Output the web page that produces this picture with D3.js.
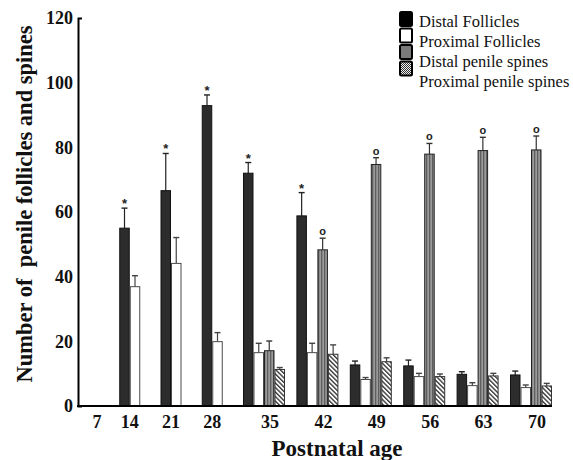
<!DOCTYPE html>
<html>
<head>
<meta charset="utf-8">
<script src="https://cdn.jsdelivr.net/npm/d3@7"></script>
<style>
  body { margin: 0; background: #fff; }
  svg { display: block; font-family: "Liberation Serif", "Times New Roman", serif; }
</style>
</head>
<body>
<svg id="chart"></svg>
<script>
// 1. Data
const ages = [7, 14, 21, 28, 35, 42, 49, 56, 63, 70]
const seriesNames = ["Distal Follicles", "Proximal Follicles", "Distal penile spines", "Proximal penile spines"]

const distalFollicles      = [null, 55.0, 66.6, 92.9, 72.0, 58.8, 12.7, 12.4, 9.8, 9.6]
const distalFolliclesErr   = [null, 6.2, 11.5, 3.3, 3.3, 7.2, 1.2, 1.8, 0.8, 1.2]
const proximalFollicles    = [null, 36.9, 44.1, 19.9, 16.5, 16.5, 8.2, 9.1, 6.3, 5.7]
const proximalFolliclesErr = [null, 3.4, 8.0, 2.8, 2.9, 2.9, 0.6, 1.0, 0.9, 0.8]
const distalSpines         = [null, null, null, null, 17.1, 48.3, 74.7, 77.9, 79.0, 79.2]
const distalSpinesErr      = [null, null, null, null, 3.0, 3.6, 2.1, 3.3, 4.1, 4.3]
const proximalSpines       = [null, null, null, null, 11.3, 16.0, 13.7, 9.1, 9.3, 6.2]
const proximalSpinesErr    = [null, null, null, null, 0.6, 2.9, 1.2, 0.8, 0.8, 0.8]

// significance marks: "*" on distal follicles, "o" on distal spines
const distalFolliclesMark = [null, "*", "*", "*", "*", "*", null, null, null, null]
const distalSpinesMark    = [null, null, null, null, null, "o", "o", "o", "o", "o"]

const yTicks = [0, 20, 40, 60, 80, 100, 120]

const series = [
  { values: distalFollicles, err: distalFolliclesErr, marks: distalFolliclesMark },
  { values: proximalFollicles, err: proximalFolliclesErr, marks: null },
  { values: distalSpines, err: distalSpinesErr, marks: distalSpinesMark },
  { values: proximalSpines, err: proximalSpinesErr, marks: null },
]

// 2. Dimensions
const width = 573
const height = 460
const margin = { top: 18, right: 20, bottom: 54, left: 78 }
const plotBottom = height - margin.bottom
const barWidth = 10.5

const svg = d3.select("#chart")
  .attr("width", width)
  .attr("height", height)

// 3. Patterns
const defs = svg.append("defs")

const stripes = defs.append("pattern")
  .attr("id", "vstripes")
  .attr("patternUnits", "userSpaceOnUse")
  .attr("width", 3).attr("height", 3)
stripes.append("rect").attr("width", 3).attr("height", 3).attr("fill", "#9a9a9a")
stripes.append("rect").attr("width", 1.3).attr("height", 3).attr("fill", "#5e5e5e")

const hatch = defs.append("pattern")
  .attr("id", "dhatch")
  .attr("patternUnits", "userSpaceOnUse")
  .attr("width", 3.2).attr("height", 3.2)
  .attr("patternTransform", "rotate(-45)")
hatch.append("rect").attr("width", 3.2).attr("height", 3.2).attr("fill", "#fff")
hatch.append("rect").attr("width", 1.4).attr("height", 3.2).attr("fill", "#3a3a3a")

const checker = defs.append("pattern")
  .attr("id", "checker")
  .attr("patternUnits", "userSpaceOnUse")
  .attr("width", 2).attr("height", 2)
checker.append("rect").attr("width", 2).attr("height", 2).attr("fill", "#eee")
checker.append("rect").attr("width", 1).attr("height", 1).attr("fill", "#333")
checker.append("rect").attr("x", 1).attr("y", 1).attr("width", 1).attr("height", 1).attr("fill", "#333")

const fills = ["#2c2c2c", "#ffffff", "url(#vstripes)", "url(#dhatch)"]
const strokes = ["#111", "#4a4a4a", "#222", "#333"]
const errColors = ["#222", "#444", "#333", "#444"]

// 4. Scales
const y = d3.scaleLinear()
  .domain([0, 120])
  .range([plotBottom, margin.top])

// groups 7-35 sit side by side, the later ones have a small gap between them
const groupX = d3.scaleLinear()
  .domain([0, 4, ages.length - 1])
  .range([margin.left, margin.left + 165, margin.left + 432])

const slot = d3.scaleBand()
  .domain(d3.range(series.length))
  .range([0, barWidth * series.length])

// 5. Bars, error bars and marks
series.forEach((s, si) => {
  const pts = ages.map((age, i) => ({ i, v: s.values[i], e: s.err[i], m: s.marks ? s.marks[i] : null }))
    .filter(d => d.v != null)

  const g = svg.append("g")

  g.selectAll("line.err")
    .data(pts)
    .join("line")
      .attr("x1", d => groupX(d.i) + slot(si) + barWidth / 2)
      .attr("x2", d => groupX(d.i) + slot(si) + barWidth / 2)
      .attr("y1", d => y(d.v))
      .attr("y2", d => y(d.v + d.e))
      .attr("stroke", errColors[si])
      .attr("stroke-width", 1.2)

  g.selectAll("line.cap")
    .data(pts)
    .join("line")
      .attr("x1", d => groupX(d.i) + slot(si) + barWidth / 2 - 3)
      .attr("x2", d => groupX(d.i) + slot(si) + barWidth / 2 + 3)
      .attr("y1", d => y(d.v + d.e))
      .attr("y2", d => y(d.v + d.e))
      .attr("stroke", errColors[si])
      .attr("stroke-width", 1.4)

  g.selectAll("rect")
    .data(pts)
    .join("rect")
      .attr("x", d => groupX(d.i) + slot(si) + 0.5)
      .attr("y", d => y(d.v))
      .attr("width", barWidth - 1)
      .attr("height", d => y(0) - y(d.v))
      .attr("fill", fills[si])
      .attr("stroke", strokes[si])
      .attr("stroke-width", 1)

  g.selectAll("text")
    .data(pts.filter(d => d.m))
    .join("text")
      .attr("x", d => groupX(d.i) + slot(si) + barWidth / 2)
      .attr("y", d => y(d.v + d.e) - (d.m === "*" ? 0 : 3))
      .attr("text-anchor", "middle")
      .attr("font-family", "Liberation Sans, Arial, sans-serif")
      .attr("font-weight", "bold")
      .attr("font-size", d => d.m === "*" ? 13 : 11)
      .attr("fill", "#222")
      .text(d => d.m)
})

// 6. Axes
const yAxis = d3.axisLeft(y)
  .tickValues(yTicks)
  .tickSizeInner(0)
  .tickSizeOuter(-4)
  .tickPadding(5)

svg.append("g")
  .attr("transform", `translate(${margin.left},0)`)
  .call(yAxis)
  .call(g => g.select(".domain").attr("stroke", "#000").attr("stroke-width", 2))
  .call(g => g.selectAll(".tick text")
    .attr("font-family", "Liberation Serif, serif")
    .attr("font-weight", "bold")
    .attr("font-size", 18)
    .attr("fill", "#111"))

svg.append("line")
  .attr("x1", margin.left - 1)
  .attr("x2", groupX(ages.length - 1) + barWidth * 4)
  .attr("y1", y(0))
  .attr("y2", y(0))
  .attr("stroke", "#000")
  .attr("stroke-width", 2)

// x labels centred on the bars that each age actually has
const nShown = ages.map((a, i) => series.filter(s => s.values[i] != null).length)
svg.append("g")
  .selectAll("text")
  .data(ages)
  .join("text")
    .attr("x", (a, i) => groupX(i) + barWidth * (nShown[i] ? nShown[i] / 2 : 2) - (nShown[i] ? 0 : 2) + (nShown[i] === 4 ? 6 : 0))
    .attr("y", 428)
    .attr("text-anchor", "middle")
    .attr("font-weight", "bold")
    .attr("font-size", 18)
    .attr("fill", "#111")
    .text(d => d)

// 7. Titles
svg.append("text")
  .attr("transform", `translate(32, ${(margin.top + plotBottom) / 2 - 8}) rotate(-90)`)
  .attr("text-anchor", "middle")
  .attr("font-weight", "bold")
  .attr("font-size", 22.5)
  .attr("fill", "#111")
  .attr("xml:space", "preserve")
  .text("Number of  penile follicles and spines")

svg.append("text")
  .attr("x", 337)
  .attr("y", 456)
  .attr("text-anchor", "middle")
  .attr("font-weight", "bold")
  .attr("font-size", 23)
  .attr("fill", "#111")
  .text("Postnatal age")

// 8. Legend
const legendFills = ["#000", "#fff", "#7a7a7a", "url(#checker)"]
const legend = svg.append("g")

legend.selectAll("rect")
  .data(seriesNames)
  .join("rect")
    .attr("x", 400)
    .attr("y", (d, i) => 12 + i * 16.5)
    .attr("width", 12)
    .attr("height", 14)
    .attr("rx", 1.5)
    .attr("fill", (d, i) => legendFills[i])
    .attr("stroke", "#000")
    .attr("stroke-width", 2)

legend.selectAll("text")
  .data(seriesNames)
  .join("text")
    .attr("x", 419)
    .attr("y", (d, i) => 27 + i * 20)
    .attr("font-size", 16.5)
    .attr("fill", "#111")
    .text(d => d)
</script>
</body>
</html>
